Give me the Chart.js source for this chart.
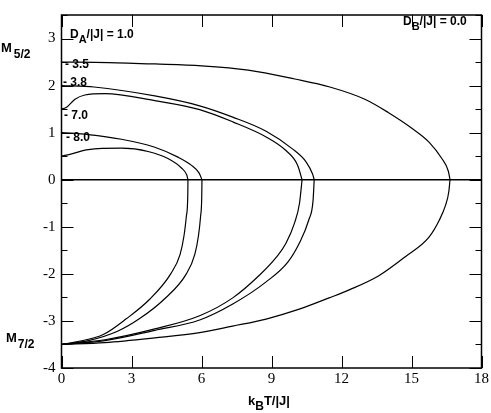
<!DOCTYPE html>
<html>
<head>
<meta charset="utf-8">
<script src="https://cdn.jsdelivr.net/npm/chart.js@4.4.0/dist/chart.umd.min.js"></script>
<style>
  body { margin: 0; background: #fff; }
  canvas { display: block; }
</style>
</head>
<body>
<canvas id="magChart" width="491" height="413"></canvas>
<script>
// ose
let xTicks = [0, 3, 6, 9, 12, 15, 18];
let yTicks = [-4, -3, -2, -1, 0, 1, 2, 3];

// D_A/|J| = 1.0  (gornja grana M5/2, donja grana M7/2)
let t10u = [0, 2, 4, 6, 8, 10, 11.5, 13, 14, 15, 15.75, 16.3, 16.58, 16.65];
let m10u = [2.5, 2.49, 2.46, 2.42, 2.33, 2.14, 1.97, 1.71, 1.43, 1.10, 0.80, 0.45, 0.18, 0];
let t10l = [0, 1.86, 4.0, 5.92, 7.33, 8.77, 10.19, 11.47, 12.33, 13.6, 14.75, 15.75, 16.2, 16.46, 16.6, 16.65];
let m10l = [-3.5, -3.46, -3.36, -3.25, -3.11, -2.96, -2.75, -2.51, -2.34, -2.04, -1.63, -1.22, -0.85, -0.54, -0.25, 0];

// D_A/|J| = -3.5
let t35u = [0, 1.4, 4.0, 5.92, 7.34, 8.77, 9.91, 10.48, 10.76, 10.83];
let m35u = [2.0, 1.97, 1.78, 1.57, 1.33, 1.03, 0.65, 0.38, 0.12, 0];
let t35l = [0, 1.86, 4.0, 5.92, 7.34, 8.77, 9.7, 10.19, 10.6, 10.78, 10.83];
let m35l = [-3.5, -3.42, -3.2, -2.98, -2.64, -2.17, -1.75, -1.35, -0.85, -0.45, 0];

// D_A/|J| = -3.8
let t38u = [0, 0.22, 0.58, 1.0, 1.86, 4.0, 5.92, 7.34, 8.77, 9.62, 10.12, 10.31];
let m38u = [1.5, 1.54, 1.71, 1.80, 1.83, 1.68, 1.49, 1.23, 0.91, 0.62, 0.31, 0];
let t38l = [0, 1.86, 4.0, 5.92, 7.34, 8.48, 9.2, 9.62, 10.0, 10.2, 10.31];
let m38l = [-3.5, -3.40, -3.17, -2.89, -2.51, -2.03, -1.65, -1.35, -0.9, -0.5, 0];

// D_A/|J| = -7.0
let t70u = [0, 1.15, 2.57, 4.0, 4.99, 5.56, 5.9, 6.02];
let m70u = [1.0, 0.96, 0.86, 0.69, 0.48, 0.31, 0.14, 0];
let t70l = [0, 1.15, 2.4, 3.35, 4.4, 5.35, 5.71, 5.87, 5.96, 6.01, 6.02];
let m70l = [-3.5, -3.42, -3.22, -2.95, -2.54, -2.0, -1.59, -1.19, -0.78, -0.37, 0];

// D_A/|J| = -8.0
let t80u = [0, 0.44, 1.15, 2.57, 3.71, 4.56, 5.14, 5.37, 5.42];
let m80u = [0.5, 0.55, 0.64, 0.67, 0.60, 0.45, 0.25, 0.1, 0];
let t80l = [0, 0.58, 1.79, 2.79, 3.78, 4.68, 5.08, 5.25, 5.35, 5.41, 5.42];
let m80l = [-3.5, -3.45, -3.29, -2.95, -2.54, -2.0, -1.59, -1.19, -0.78, -0.37, 0];

let grane = [
    [t10u, m10u], [t10l, m10l],
    [t35u, m35u], [t35l, m35l],
    [t38u, m38u], [t38l, m38l],
    [t70u, m70u], [t70l, m70l],
    [t80u, m80u], [t80l, m80l]
];

let datasets = grane.map(function (g) {
    return {
        data: g[0].map(function (t, i) { return { x: t, y: g[1][i] }; }),
        showLine: true,
        borderColor: "#000",
        borderWidth: 1.2,
        pointRadius: 0,
        cubicInterpolationMode: "monotone",
        fill: false
    };
});

// tekst sa indeksom (subscript)
function pisi(ctx, x, y, delovi) {
    delovi.forEach(function (d) {
        ctx.font = "bold " + (d.size || 12) + "px 'Liberation Sans'";
        ctx.fillText(d.t, x, d.sub ? y + (d.pomak || 5) : y);
        x += ctx.measureText(d.t).width + (d.razmak || 0);
    });
}

let okvir = {
    id: "okvir",
    afterDraw: function (chart) {
        let ctx = chart.ctx;
        let a = chart.chartArea;
        let sx = chart.scales.x;
        let sy = chart.scales.y;
        ctx.save();
        ctx.strokeStyle = "#000";
        ctx.lineWidth = 1.5;
        ctx.strokeRect(a.left, a.top, a.right - a.left, a.bottom - a.top);

        // crtice ka unutra
        ctx.lineWidth = 1;
        ctx.beginPath();
        xTicks.forEach(function (v) {
            let px = Math.round(sx.getPixelForValue(v)) + 0.5;
            ctx.moveTo(px, a.bottom); ctx.lineTo(px, a.bottom - 12);
            ctx.moveTo(px, a.top); ctx.lineTo(px, a.top + 12);
        });
        for (let v = -4; v <= 3.5; v += 0.5) {
            let py = Math.round(sy.getPixelForValue(v)) + 0.5;
            let len = Number.isInteger(v) ? 12 : 6;
            ctx.moveTo(a.left, py); ctx.lineTo(a.left + len, py);
            ctx.moveTo(a.right, py); ctx.lineTo(a.right - len, py);
        }
        ctx.stroke();

        ctx.fillStyle = "#000";
        ctx.textBaseline = "alphabetic";
        ctx.textAlign = "left";
        // natpisi krivih
        pisi(ctx, 70, 38, [{ t: "D" }, { t: "A", sub: true, size: 11 }, { t: "/|J| = 1.0" }]);
        pisi(ctx, 65, 67.5, [{ t: "- 3.5" }]);
        pisi(ctx, 63, 86, [{ t: "- 3.8" }]);
        pisi(ctx, 64, 119, [{ t: "- 7.0" }]);
        pisi(ctx, 66, 141, [{ t: "- 8.0" }]);
        pisi(ctx, 403, 25, [{ t: "D" }, { t: "B", sub: true, size: 11 }, { t: "/|J| = 0.0" }]);

        // nazivi osa
        pisi(ctx, 1, 52, [{ t: "M", size: 13, razmak: 2 }, { t: "5/2", sub: true, pomak: 6 }]);
        pisi(ctx, 6, 342, [{ t: "M", size: 13, razmak: 1 }, { t: "7/2", sub: true, pomak: 6 }]);
        pisi(ctx, 248, 405, [{ t: "k", size: 13 }, { t: "B", sub: true }, { t: "T/|J|", size: 13 }]);
        ctx.restore();
    }
};

let chart = new Chart(document.getElementById("magChart"), {
    type: "scatter",
    data: { datasets: datasets },
    options: {
        responsive: false,
        animation: false,
        layout: { padding: { top: 1, right: 8, left: 0, bottom: 0 } },
        plugins: {
            legend: { display: false },
            tooltip: { enabled: false }
        },
        scales: {
            x: {
                type: "linear",
                min: 0,
                max: 18,
                afterBuildTicks: function (s) { s.ticks = xTicks.map(function (v) { return { value: v }; }); },
                ticks: {
                    color: "#000",
                    padding: 2,
                    maxRotation: 0,
                    font: { family: "'Liberation Serif'", size: 15 }
                },
                grid: { display: false, drawTicks: false },
                border: { display: false },
                afterFit: function (s) { s.height = 45; }
            },
            y: {
                type: "linear",
                min: -4,
                max: 3.5,
                afterBuildTicks: function (s) { s.ticks = yTicks.map(function (v) { return { value: v }; }); },
                ticks: {
                    color: "#000",
                    padding: 6,
                    font: { family: "'Liberation Serif'", size: 15 }
                },
                grid: {
                    drawTicks: false,
                    lineWidth: 1.5,
                    color: function (c) { return c.tick && c.tick.value === 0 ? "#000" : "rgba(0,0,0,0)"; }
                },
                border: { display: false },
                afterFit: function (s) { s.width = 61.5; }
            }
        }
    },
    plugins: [okvir]
});
</script>
</body>
</html>
